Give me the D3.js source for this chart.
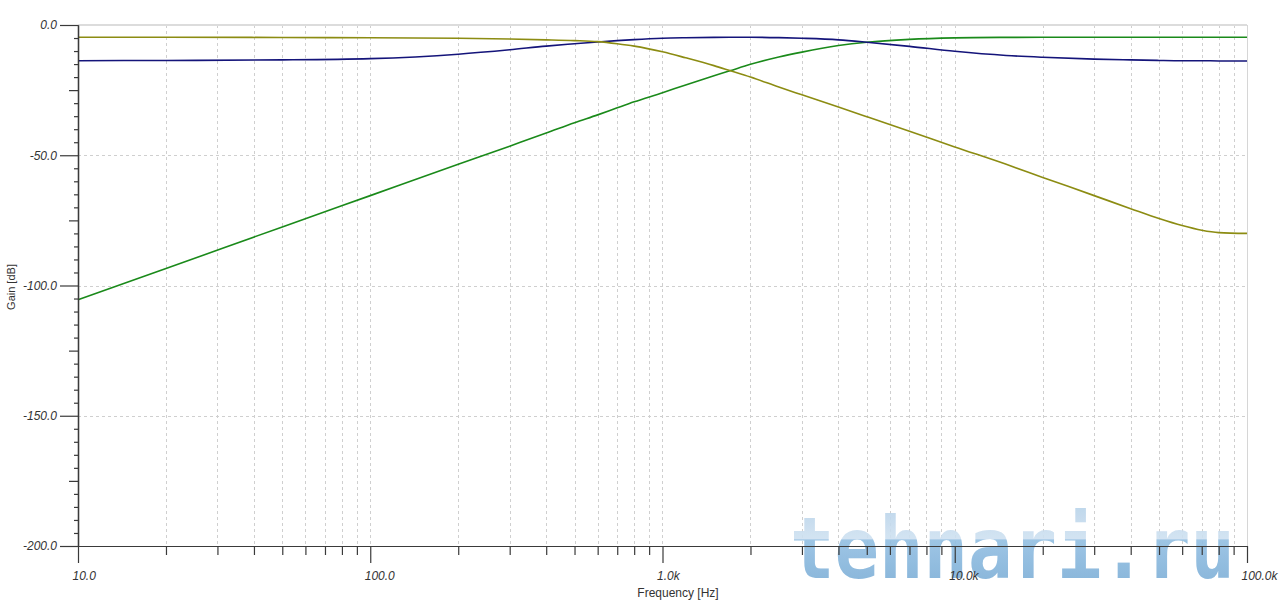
<!DOCTYPE html>
<html>
<head>
<meta charset="utf-8">
<script src="https://cdn.jsdelivr.net/npm/d3@7"></script>
<style>
  html, body { margin: 0; padding: 0; background: #fff; }
  svg { display: block; }
</style>
</head>
<body>
<svg id="chart" width="1280" height="609"></svg>
<script>
// ---- data ----
const freqs = [10, 20, 50, 100, 200, 300, 400, 500, 600, 700, 800, 1000, 1200, 1500, 1700, 2000, 2500, 3000, 4000, 5000, 7000, 10000, 15000, 20000, 30000, 40000, 50000, 60000, 70000, 80000, 100000];
const lowpassDb = [-4.7, -4.7, -4.8, -4.9, -5.1, -5.4, -5.7, -6.0, -6.4, -7.2, -8.1, -10.3, -12.6, -15.6, -17.5, -20.0, -23.8, -26.8, -31.5, -35.2, -40.8, -46.8, -53.5, -58.5, -65.5, -70.5, -74.3, -77.0, -78.8, -79.7, -80.0];
const bandpassDb = [-13.7, -13.6, -13.4, -12.9, -11.2, -9.5, -8.1, -7.2, -6.5, -6.0, -5.6, -5.1, -4.9, -4.75, -4.7, -4.7, -4.85, -5.1, -5.7, -6.6, -8.2, -10.1, -11.7, -12.4, -13.1, -13.4, -13.6, -13.7, -13.7, -13.8, -13.8];
const highpassDb = [-105.5, -93.5, -77.5, -65.5, -53.5, -46.5, -41.5, -37.5, -34.5, -31.8, -29.5, -26.0, -23.0, -19.5, -17.6, -15.1, -12.3, -10.4, -7.9, -6.6, -5.5, -4.95, -4.75, -4.7, -4.7, -4.7, -4.7, -4.7, -4.7, -4.7, -4.7];

const xMajorTicks = [10, 100, 1000, 10000, 100000];
const xMajorLabels = ["10.0", "100.0", "1.0k", "10.0k", "100.0k"];
const yMajorTicks = [0, -50, -100, -150, -200];
const yMajorLabels = ["0.0", "-50.0", "-100.0", "-150.0", "-200.0"];
const xTitle = "Frequency [Hz]";
const yTitle = "Gain [dB]";
const watermark = "tehnari.ru";

// ---- layout ----
const L = 78, R = 1247, T = 25, B = 546;
const svg = d3.select("#chart");
const x = d3.scaleLog().domain([10, 100000]).range([L, R]);
const y = d3.scaleLinear().domain([0, -200]).range([T, B]);

const xMinor = [];
for (let d = 10; d < 100000; d *= 10) for (let k = 2; k <= 9; k++) xMinor.push(d * k);
const yMinor = d3.range(0, -201, -5).filter(v => v % 25 !== 0);
const yMid = d3.range(0, -201, -25).filter(v => v % 50 !== 0);

const font = "'Liberation Sans', Arial, sans-serif";

// grid
const grid = svg.append("g");
grid.selectAll("line.v").data(xMinor.concat([100, 1000, 10000])).join("line")
  .attr("x1", d => Math.round(x(d)) + 0.5).attr("x2", d => Math.round(x(d)) + 0.5)
  .attr("y1", T).attr("y2", B)
  .attr("stroke", "#cfcfcf").attr("stroke-width", 1).attr("stroke-dasharray", "3,3");
grid.selectAll("line.h").data([-50, -100, -150]).join("line")
  .attr("x1", L).attr("x2", R)
  .attr("y1", d => Math.round(y(d)) + 0.5).attr("y2", d => Math.round(y(d)) + 0.5)
  .attr("stroke", "#cfcfcf").attr("stroke-width", 1).attr("stroke-dasharray", "3,3");
// top & right border
svg.append("line").attr("x1", L).attr("x2", R).attr("y1", T).attr("y2", T)
  .attr("stroke", "#dcdcdc").attr("stroke-width", 2);
svg.append("line").attr("x1", R + 0.5).attr("x2", R + 0.5).attr("y1", T).attr("y2", B)
  .attr("stroke", "#d6d6d6").attr("stroke-width", 1);

// watermark
const defs = svg.append("defs");
const grad = defs.append("linearGradient").attr("id", "wm")
  .attr("gradientUnits", "userSpaceOnUse").attr("x1", 0).attr("x2", 0).attr("y1", 506).attr("y2", 580);
grad.append("stop").attr("offset", 0).attr("stop-color", "#b8d3ea");
grad.append("stop").attr("offset", 0.44).attr("stop-color", "#cfe1f1");
grad.append("stop").attr("offset", 0.46).attr("stop-color", "#93bfe2");
grad.append("stop").attr("offset", 1).attr("stop-color", "#7fb0d8");
svg.append("text").text(watermark)
  .attr("x", 790).attr("y", 578)
  .attr("textLength", 445).attr("lengthAdjust", "spacingAndGlyphs")
  .attr("font-family", "'DejaVu Sans Mono', monospace").attr("font-weight", "bold")
  .attr("font-size", 86).attr("fill", "url(#wm)").attr("opacity", 0.9);

// curves
const line = d3.line().x((d, i) => x(freqs[i])).y(d => y(d)).curve(d3.curveMonotoneX);
const series = [
  { vals: highpassDb, color: "#1a8a1a" },
  { vals: bandpassDb, color: "#14147a" },
  { vals: lowpassDb, color: "#8c8c12" }
];
svg.append("g").selectAll("path").data(series).join("path")
  .attr("d", s => line(s.vals))
  .attr("fill", "none").attr("stroke", s => s.color).attr("stroke-width", 1.6);

// y axis
const axisColor = "#3a3a3a";
const gy = svg.append("g").attr("transform", `translate(${L},0)`);
gy.call(d3.axisLeft(y).tickValues(yMajorTicks).tickFormat((d, i) => yMajorLabels[i]).tickSize(18).tickPadding(3).tickSizeOuter(0));
const gyMid = svg.append("g").attr("transform", `translate(${L},0)`)
  .call(d3.axisLeft(y).tickValues(yMid).tickFormat("").tickSize(9).tickSizeOuter(0));
const gyMin = svg.append("g").attr("transform", `translate(${L},0)`)
  .call(d3.axisLeft(y).tickValues(yMinor).tickFormat("").tickSize(4).tickSizeOuter(0));

// x axis
const gx = svg.append("g").attr("transform", `translate(0,${B})`)
  .call(d3.axisBottom(x).tickValues(xMajorTicks).tickFormat((d, i) => xMajorLabels[i]).tickSize(17).tickSizeOuter(0));
gx.selectAll("text").attr("text-anchor", "start").attr("x", -6).attr("y", 34).attr("dy", null);
const gxMin = svg.append("g").attr("transform", `translate(0,${B})`)
  .call(d3.axisBottom(x).tickValues(xMinor).tickFormat("").tickSize(9).tickSizeOuter(0));

[gy, gyMid, gyMin, gx, gxMin].forEach(g => {
  g.selectAll("path.domain").attr("stroke", axisColor).attr("stroke-width", 1.2);
  g.selectAll(".tick line").attr("stroke", axisColor).attr("stroke-width", 1.2);
  g.selectAll("text").attr("font-family", font).attr("font-size", 12)
    .attr("font-style", "italic").attr("fill", "#333");
});

// titles
svg.append("text").text(xTitle)
  .attr("x", 678).attr("y", 597).attr("text-anchor", "middle")
  .attr("font-family", font).attr("font-size", 12).attr("fill", "#333");
svg.append("text").text(yTitle)
  .attr("transform", "translate(15,287) rotate(-90)").attr("text-anchor", "middle")
  .attr("font-family", font).attr("font-size", 11).attr("fill", "#333");
</script>
</body>
</html>
